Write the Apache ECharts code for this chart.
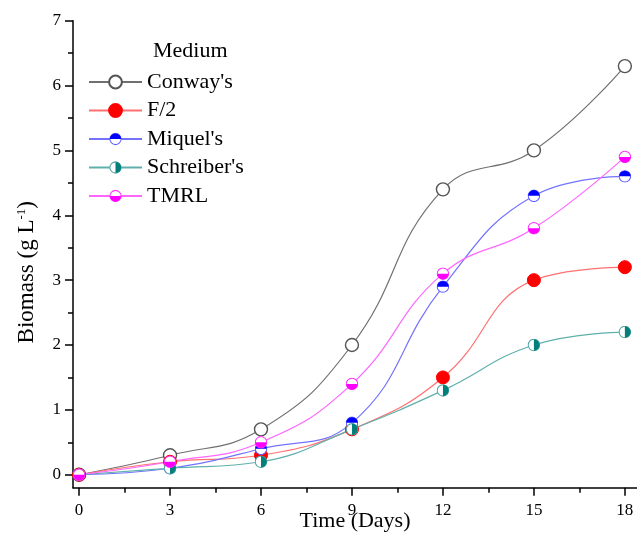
<!DOCTYPE html>
<html>
<head>
<meta charset="utf-8">
<script src="https://cdn.jsdelivr.net/npm/echarts@6/dist/echarts.min.js"></script>
<style>html,body{margin:0;padding:0;background:#fff;}#c{width:637px;height:538px;}</style>
</head>
<body>
<div id="c"></div>
<script>
const days = [0, 3, 6, 9, 12, 15, 18];
const conway = [0, 0.3, 0.7, 2.0, 4.4, 5.0, 6.3];
const f2 = [0, 0.2, 0.3, 0.7, 1.5, 3.0, 3.2];
const miquel = [0, 0.1, 0.4, 0.8, 2.9, 4.3, 4.6];
const schreiber = [0, 0.1, 0.2, 0.7, 1.3, 2.0, 2.2];
const tmrl = [0, 0.2, 0.5, 1.4, 3.1, 3.8, 4.9];
const seriesNames = ["Conway's", "F/2", "Miquel's", "Schreiber's", "TMRL"];
const xTicks = [0, 3, 6, 9, 12, 15, 18];
const xMinorTicks = [1.5, 4.5, 7.5, 10.5, 13.5, 16.5];
const yTicks = [0, 1, 2, 3, 4, 5, 6, 7];
const yMinorTicks = [0.5, 1.5, 2.5, 3.5, 4.5, 5.5, 6.5];

function halfSym(fill, stroke, d) {
  const svg = "<svg xmlns='http://www.w3.org/2000/svg' width='28' height='28' viewBox='0 0 28 28'>" +
    "<circle cx='14' cy='14' r='12.3' fill='white' stroke='" + stroke + "' stroke-width='2.2'/>" +
    "<path d='" + d + "' fill='" + fill + "'/></svg>";
  return 'image://data:image/svg+xml;charset=utf-8,' + encodeURIComponent(svg);
}
const topHalf = 'M1.7 14 A12.3 12.3 0 0 1 26.3 14 Z';
const bottomHalf = 'M1.7 14 A12.3 12.3 0 0 0 26.3 14 Z';
const rightHalf = 'M14 1.7 A12.3 12.3 0 0 1 14 26.3 Z';

const font = 'Liberation Serif';
const chart = echarts.init(document.getElementById('c'), null, {renderer: 'canvas'});
function mk(name, data, lineColor, symbol, itemStyle) {
  return {
    name: name, type: 'line', smooth: 0.45,
    data: days.map((d, i) => [d, data[i]]),
    symbol: symbol, symbolSize: 13, showAllSymbol: true,
    lineStyle: {color: lineColor, width: 1.2},
    itemStyle: itemStyle,
    emphasis: {disabled: true}
  };
}
const xBase = {type: 'value', min: -0.2, max: 18.4, splitLine: {show: false}};
const yBase = {type: 'value', min: -0.2, max: 7, splitLine: {show: false}};
chart.setOption({
  animation: false,
  backgroundColor: '#fff',
  grid: {left: 73, right: 0, top: 20.7, bottom: 50.3, containLabel: false, outerBoundsMode: 'none'},
  title: {text: 'Medium', left: 153, top: 40, padding: 0, textStyle: {fontFamily: font, fontSize: 22, fontWeight: 'normal', color: '#000'}},
  legend: {
    orient: 'vertical', left: 88, top: 71, padding: 0, itemWidth: 53, itemHeight: 16, itemGap: 6.5,
    data: seriesNames,
    textStyle: {fontFamily: font, fontSize: 22, color: '#000'}
  },
  xAxis: [
    Object.assign({}, xBase, {
      name: 'Time (Days)', nameLocation: 'middle', nameGap: 23, nameMoveOverlap: false,
      nameTextStyle: {fontFamily: font, fontSize: 22, color: '#000'},
      axisLine: {show: true, onZero: false, lineStyle: {color: '#000', width: 1.5}},
      axisTick: {show: true, inside: false, length: 8, lineStyle: {color: '#000', width: 1.5}, customValues: xTicks},
      axisLabel: {fontFamily: font, fontSize: 17, color: '#000', margin: 14, customValues: xTicks}
    }),
    Object.assign({}, xBase, {
      position: 'bottom',
      axisLine: {show: false, onZero: false},
      axisTick: {show: true, inside: false, length: 5, lineStyle: {color: '#000', width: 1.5}, customValues: xMinorTicks},
      axisLabel: {show: false}
    })
  ],
  yAxis: [
    Object.assign({}, yBase, {
      name: 'Biomass (g L{sup|-1})', nameLocation: 'middle', nameGap: 35, nameRotate: 90,
      nameTextStyle: {fontFamily: font, fontSize: 23, color: '#000', padding: [0, 36, 0, 0],
        rich: {sup: {fontFamily: font, fontSize: 13, color: '#000', verticalAlign: 'top', padding: [0, 0, 8, 0]}}},
      axisLine: {show: true, onZero: false, lineStyle: {color: '#000', width: 1.5}},
      axisTick: {show: true, inside: false, length: 8, lineStyle: {color: '#000', width: 1.5}, customValues: yTicks},
      axisLabel: {fontFamily: font, fontSize: 17, color: '#000', margin: 12, customValues: yTicks}
    }),
    Object.assign({}, yBase, {
      position: 'left',
      axisLine: {show: false, onZero: false},
      axisTick: {show: true, inside: false, length: 5, lineStyle: {color: '#000', width: 1.5}, customValues: yMinorTicks},
      axisLabel: {show: false}
    })
  ],
  series: [
    mk(seriesNames[0], conway, '#707070', 'circle', {color: '#fff', borderColor: '#555', borderWidth: 1.4}),
    mk(seriesNames[1], f2, '#ff7070', 'circle', {color: '#ff0000', borderColor: '#ff0000', borderWidth: 1}),
    mk(seriesNames[2], miquel, '#7373ff', halfSym('#0000ff', '#5c5cff', topHalf), {color: '#0000ff'}),
    mk(seriesNames[3], schreiber, '#5fb0ac', halfSym('#007f7b', '#4fa7a3', rightHalf), {color: '#008080'}),
    mk(seriesNames[4], tmrl, '#ff66ff', halfSym('#ff00ff', '#ff33ff', bottomHalf), {color: '#ff00ff'})
  ]
});
</script>
</body>
</html>
